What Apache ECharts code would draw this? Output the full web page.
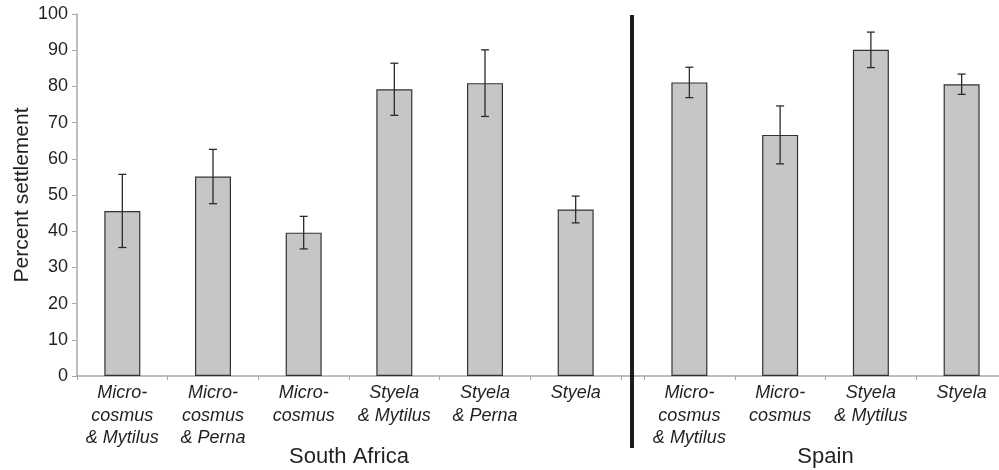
<!DOCTYPE html>
<html>
<head>
<meta charset="utf-8">
<script src="https://cdn.jsdelivr.net/npm/echarts@6/dist/echarts.min.js"></script>
<style>
  html, body { margin: 0; padding: 0; background: #fff; }
  #chart { width: 999px; height: 470px; }
</style>
</head>
<body>
<div id="chart"></div>
<script>
// South Africa treatments
const saCategories = ['Micro-\ncosmus\n& Mytilus', 'Micro-\ncosmus\n& Perna', 'Micro-\ncosmus', 'Styela\n& Mytilus', 'Styela\n& Perna', 'Styela'];
const saMeans = [45.6, 55.1, 39.6, 79.2, 80.9, 46.0];
const saErrors = [10.1, 7.5, 4.5, 7.2, 9.2, 3.7];

// Spain treatments
const esCategories = ['Micro-\ncosmus\n& Mytilus', 'Micro-\ncosmus', 'Styela\n& Mytilus', 'Styela'];
const esMeans = [81.1, 66.6, 90.1, 80.6];
const esErrors = [4.2, 8.0, 4.9, 2.8];

const yTicks = [0, 10, 20, 30, 40, 50, 60, 70, 80, 90, 100];

const FONT = '"Liberation Sans", Arial, Helvetica, sans-serif';
const AXIS_GREY = '#a9a9ab';
const TEXT = '#231f20';

function errorRenderer(api) {
  const x = api.value(0);
  const lo = api.value(1);
  const hi = api.value(2);
  const top = api.coord([x, hi]);
  const bot = api.coord([x, lo]);
  const cap = 4;
  const style = { stroke: '#2b2b2b', lineWidth: 1.3 };
  return {
    type: 'group',
    children: [
      { type: 'line', shape: { x1: top[0], y1: top[1], x2: bot[0], y2: bot[1] }, style },
      { type: 'line', shape: { x1: top[0] - cap, y1: top[1], x2: top[0] + cap, y2: top[1] }, style },
      { type: 'line', shape: { x1: bot[0] - cap, y1: bot[1], x2: bot[0] + cap, y2: bot[1] }, style }
    ]
  };
}

function errData(means, errs) {
  return means.map((m, i) => [i, m - errs[i], m + errs[i]]);
}

const xAxisCommon = {
  type: 'category',
  axisLine: { lineStyle: { color: AXIS_GREY, width: 1.5 } },
  axisTick: { show: true, length: 4, lineStyle: { color: AXIS_GREY } },
  axisLabel: {
    color: TEXT, fontFamily: FONT, fontSize: 18, fontStyle: 'italic',
    lineHeight: 22.5, margin: 6, interval: 0
  },
  nameLocation: 'middle',
  nameGap: 70,
  nameMoveOverlap: false,
  nameTextStyle: { color: TEXT, fontFamily: FONT, fontSize: 22 }
};

const yAxisCommon = {
  type: 'value',
  min: 0, max: 100, interval: 10,
  splitLine: { show: false }
};

const chart = echarts.init(document.getElementById('chart'), null, { renderer: 'canvas' });

chart.setOption({
  animation: false,
  backgroundColor: '#fff',
  grid: [
    { left: 77, top: 14, width: 544, bottom: 94, containLabel: false, outerBoundsMode: 'none' },
    { left: 644, top: 14, width: 363, bottom: 94, containLabel: false, outerBoundsMode: 'none' }
  ],
  xAxis: [
    Object.assign({}, xAxisCommon, { gridIndex: 0, data: saCategories, name: 'South Africa' }),
    Object.assign({}, xAxisCommon, { gridIndex: 1, data: esCategories, name: 'Spain' })
  ],
  yAxis: [
    Object.assign({}, yAxisCommon, {
      gridIndex: 0,
      axisLine: { show: true, lineStyle: { color: AXIS_GREY, width: 1.5 } },
      axisTick: { show: true, length: 5, lineStyle: { color: AXIS_GREY } },
      axisLabel: {
        color: TEXT, fontFamily: FONT, fontSize: 18, margin: 9,
        customValues: yTicks
      },
      name: 'Percent settlement',
      nameLocation: 'middle',
      nameGap: 44,
      nameMoveOverlap: false,
      nameTextStyle: { color: TEXT, fontFamily: FONT, fontSize: 21 }
    }),
    Object.assign({}, yAxisCommon, {
      gridIndex: 1,
      show: false
    })
  ],
  series: [
    {
      type: 'bar', xAxisIndex: 0, yAxisIndex: 0, data: saMeans,
      barWidth: 36,
      itemStyle: { color: '#c5c6c8', borderColor: '#333', borderWidth: 1.2 }
    },
    {
      type: 'custom', xAxisIndex: 0, yAxisIndex: 0,
      data: errData(saMeans, saErrors), renderItem: (p, api) => errorRenderer(api), z: 5
    },
    {
      type: 'bar', xAxisIndex: 1, yAxisIndex: 1, data: esMeans,
      barWidth: 36,
      itemStyle: { color: '#c5c6c8', borderColor: '#333', borderWidth: 1.2 }
    },
    {
      type: 'custom', xAxisIndex: 1, yAxisIndex: 1,
      data: errData(esMeans, esErrors), renderItem: (p, api) => errorRenderer(api), z: 5
    }
  ],
  graphic: [
    // bridge the baseline between the two panels
    { type: 'line', shape: { x1: 621, y1: 376, x2: 644, y2: 376 }, style: { stroke: AXIS_GREY, lineWidth: 1.5 }, z: 1 },
    // heavy divider between the countries
    { type: 'rect', shape: { x: 630, y: 15, width: 4, height: 433 }, style: { fill: '#1c1c1c' }, z: 10 }
  ]
});
</script>
</body>
</html>
